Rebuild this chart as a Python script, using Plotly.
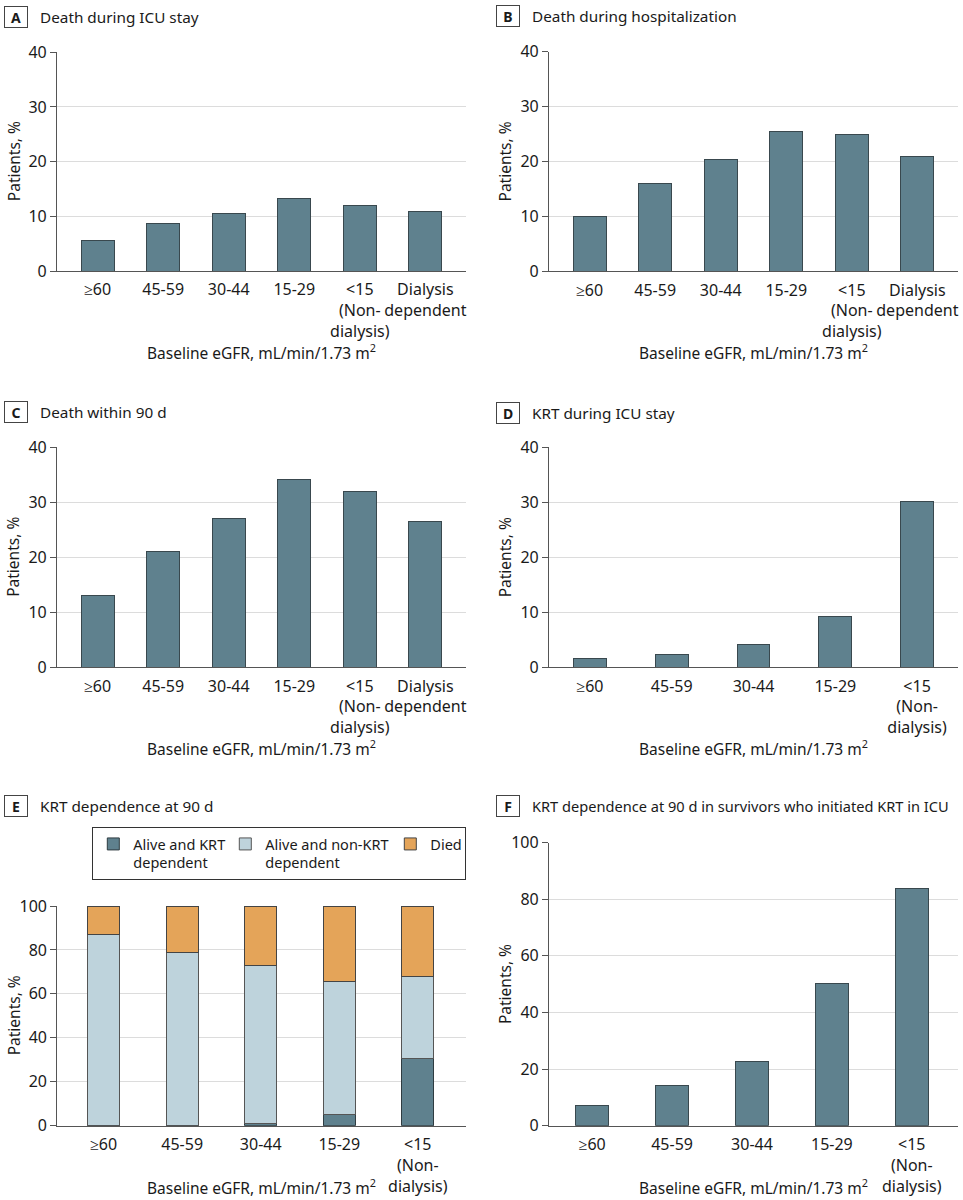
import plotly.graph_objects as go

# ---------------- data ----------------
cats6 = ["≥60", "45-59", "30-44", "15-29", "<15<br>(Non-<br>dialysis)", "Dialysis<br>dependent"]
cats5 = ["≥60", "45-59", "30-44", "15-29", "<15<br>(Non-<br>dialysis)"]

death_icu = [5.5, 8.6, 10.5, 13.2, 12.0, 10.9]
death_hosp = [9.9, 16.0, 20.3, 25.5, 24.9, 21.0]
death_90d = [13.0, 21.1, 27.0, 34.2, 32.0, 26.5]
krt_icu = [1.6, 2.4, 4.1, 9.3, 30.2]
e_krt_dep = [0.2, 0.3, 1.0, 5.2, 30.7]
e_non_krt = [86.8, 78.7, 72.0, 60.5, 37.1]
e_died = [13.0, 21.0, 27.0, 34.3, 32.2]
krt_dep_surv = [7.2, 14.1, 22.5, 50.3, 83.9]

titles = ["Death during ICU stay", "Death during hospitalization", "Death within 90 d",
          "KRT during ICU stay", "KRT dependence at 90 d",
          "KRT dependence at 90 d in survivors who initiated KRT in ICU"]
letters = ["A", "B", "C", "D", "E", "F"]
legend_names = ["Alive and KRT<br>dependent", "Alive and non-KRT<br>dependent", "Died"]
xtitle = "Baseline eGFR, mL/min/1.73 m<sup>2</sup>"
ytitle = "Patients, %"

# ---------------- style ----------------
W, H = 963, 1200
FONT = "Noto Sans"
BAR = "#5f818e"
BAR_LINE = "#39484e"
LIGHT = "#bed3dc"
ORANGE = "#e4a459"
AXIS = "#555555"
GRID = "#dcdcdc"
TXT = "#1a1a1a"

# panel pixel boxes: (left, right, top, bottom)
boxes = [
    (57, 466, 52.3, 271.0),
    (549, 958, 51.7, 271.3),
    (57, 466, 447.3, 667.3),
    (549, 958, 447.3, 667.3),
    (57.3, 465.7, 906.0, 1125.7),
    (549, 957.7, 842.5, 1125.7),
]
xranges = [[-0.62, 5.62], [-0.62, 5.62], [-0.62, 5.62], [-0.5, 4.5], [-0.59, 4.61], [-0.54, 4.575]]
yranges = [[0, 40], [0, 40], [0, 40], [0, 40], [0, 100], [0, 100]]
ydticks = [10, 10, 10, 10, 20, 20]
widths = [0.5, 0.5, 0.5, 0.4, 0.41, 0.41]
title_y = [17, 16, 412, 413, 806, 806]
title_size = [15.3, 15.3, 15.3, 15.3, 15.3, 14.6]
xtitle_y = [352, 352, 748, 748, 1187, 1187]
legend_widths = [87, 120, 30]


def px_x(v):
    return v / W


def px_y(v):
    return 1 - v / H


fig = go.Figure()

simple = [(0, cats6, death_icu), (1, cats6, death_hosp), (2, cats6, death_90d),
          (3, cats5, krt_icu), (5, cats5, krt_dep_surv)]
for i, cats, vals in simple:
    ax = "" if i == 0 else str(i + 1)
    fig.add_trace(go.Bar(x=cats, y=vals, width=widths[i], xaxis="x" + ax, yaxis="y" + ax,
                         marker=dict(color=BAR, line=dict(color=BAR_LINE, width=1)),
                         showlegend=False))

# stacked panel E
for name, vals, col, lc, lw in zip(legend_names, [e_krt_dep, e_non_krt, e_died],
                                   [BAR, LIGHT, ORANGE], ["#2f3c41", "#555555", "#444444"],
                                   legend_widths):
    fig.add_trace(go.Bar(x=cats5, y=vals, width=widths[4], xaxis="x5", yaxis="y5", name=name,
                         marker=dict(color=col, line=dict(color=lc, width=1)),
                         legendwidth=lw, showlegend=True))

layout = dict(
    template="none",
    width=W, height=H, margin=dict(l=0, r=0, t=0, b=0, pad=0, autoexpand=False),
    paper_bgcolor="white", plot_bgcolor="white",
    font=dict(family=FONT, size=15, color=TXT),
    barmode="stack",
    showlegend=True,
    legend=dict(orientation="h", x=px_x(92.3), y=px_y(827), xanchor="left", yanchor="top",
                bordercolor="#333333", borderwidth=1, bgcolor="white",
                font=dict(family=FONT, size=14.5, color=TXT), valign="top",
                traceorder="normal", itemclick=False),
)

annotations = []
for i in range(6):
    l, r, t, b = boxes[i]
    ax = "" if i == 0 else str(i + 1)
    layout["xaxis" + ax] = dict(
        domain=[px_x(l), px_x(r)], anchor="y" + ax, type="category", range=xranges[i],
        showline=True, linecolor=AXIS, linewidth=1.2, ticks="", showgrid=False,
        tickangle=0, automargin=False, zeroline=False,
        tickfont=dict(size=16, color=TXT), ticklabelstandoff=4, fixedrange=True)
    layout["yaxis" + ax] = dict(
        domain=[px_y(b), px_y(t)], anchor="x" + ax, range=yranges[i], dtick=ydticks[i],
        tick0=0, showline=True, linecolor=AXIS, linewidth=1.2, ticks="outside", ticklen=6,
        tickcolor=AXIS, tickwidth=1, showgrid=True, gridcolor=GRID, gridwidth=1,
        automargin=False, zeroline=False, tickfont=dict(size=16, color=TXT), fixedrange=True)
    # panel letter box
    left_col = l < 300
    bx = 16 if left_col else 507.5
    tx = 38 if left_col else 530
    annotations.append(dict(xref="paper", yref="paper", x=px_x(bx), y=px_y(title_y[i]),
                            xanchor="center", yanchor="middle", showarrow=False,
                            text="<b>" + letters[i] + "</b>", font=dict(size=14, color=TXT),
                            bordercolor="#444444", borderwidth=1, borderpad=3,
                            width=16, height=14, bgcolor="white"))
    annotations.append(dict(xref="paper", yref="paper", x=px_x(tx), y=px_y(title_y[i]),
                            xanchor="left", yanchor="middle", showarrow=False,
                            text=titles[i], font=dict(size=title_size[i], color=TXT)))
    # axis titles
    annotations.append(dict(xref="paper", yref="paper", x=px_x((l + r) / 2), y=px_y(xtitle_y[i]),
                            xanchor="center", yanchor="middle", showarrow=False,
                            text=xtitle, font=dict(size=15.5, color=TXT)))
    annotations.append(dict(xref="paper", yref="paper", x=px_x(13.5 if left_col else 505),
                            y=px_y((t + b) / 2), xanchor="center", yanchor="middle",
                            showarrow=False, textangle=-90, text=ytitle,
                            font=dict(size=15.5, color=TXT)))

layout["annotations"] = annotations
fig.update_layout(**layout)
fig.write_html("out.html")
